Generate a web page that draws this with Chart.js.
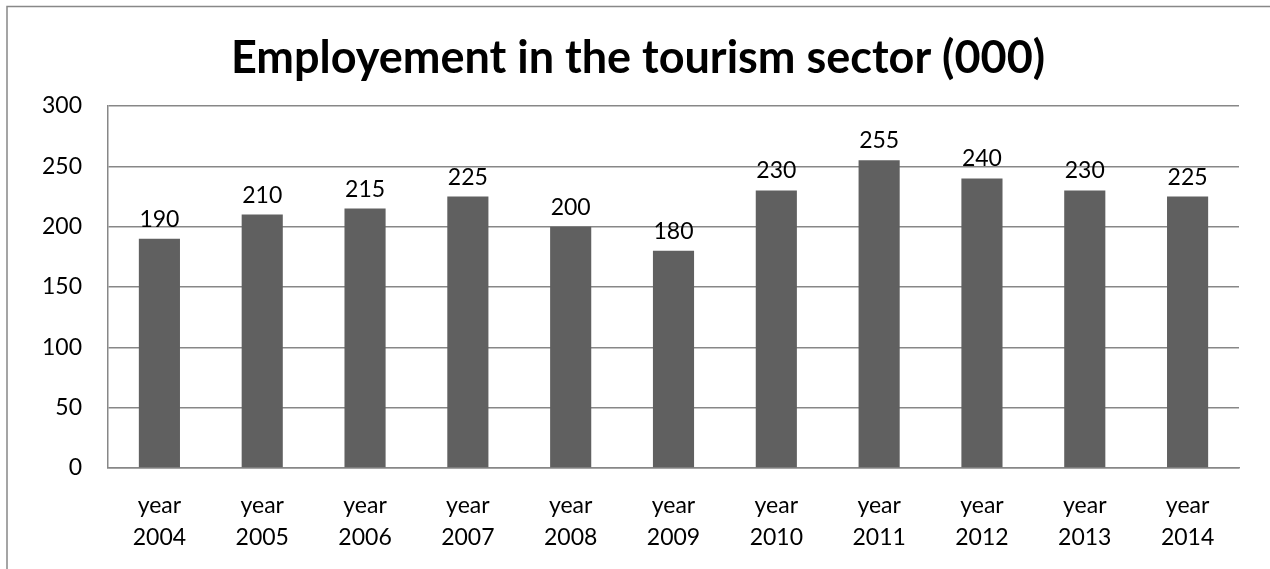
<!DOCTYPE html>
<html>
<head>
<meta charset="utf-8">
<title>Employement in the tourism sector</title>
<script src="https://cdn.jsdelivr.net/npm/chart.js@4/dist/chart.umd.min.js"></script>
<style>
  html, body { margin: 0; padding: 0; background: #fff; }
  #wrap { width: 1270px; height: 569px; }
</style>
</head>
<body>
<div id="wrap"><canvas id="chart" width="1270" height="569"></canvas></div>
<script>
const years = ['2004', '2005', '2006', '2007', '2008', '2009', '2010', '2011', '2012', '2013', '2014']
const employment = [190, 210, 215, 225, 200, 180, 230, 255, 240, 230, 225]
const yTicks = [0, 50, 100, 150, 200, 250, 300]

const FONT = "Lato, 'Liberation Sans', Arial, sans-serif"
const GRID = '#878787'

// outer frame of the chart object
const frame = {
  id: 'frame',
  beforeDraw(chart) {
    const ctx = chart.ctx
    ctx.save()
    ctx.fillStyle = '#fff'
    ctx.fillRect(0, 0, chart.width, chart.height)
    ctx.strokeStyle = '#888'
    ctx.lineWidth = 1.5
    ctx.strokeRect(7, 6.5, chart.width + 20, chart.height + 20)
    ctx.restore()
  },
}

// value above each bar
const barValues = {
  id: 'barValues',
  afterDatasetsDraw(chart) {
    const ctx = chart.ctx
    const meta = chart.getDatasetMeta(0)
    ctx.save()
    ctx.font = '23px ' + FONT
    ctx.fillStyle = '#000'
    ctx.textAlign = 'center'
    ctx.textBaseline = 'alphabetic'
    meta.data.forEach((bar, i) => {
      ctx.fillText(String(employment[i]), bar.x, bar.y - 12)
    })
    ctx.restore()
  },
}

new Chart(document.getElementById('chart'), {
  type: 'bar',
  data: {
    labels: years.map(y => ['year', y]),
    datasets: [{
      data: employment,
      backgroundColor: '#606060',
      borderWidth: 0,
      barPercentage: 0.4,
      categoryPercentage: 1.0,
    }],
  },
  options: {
    responsive: false,
    devicePixelRatio: 1,
    animation: false,
    layout: { padding: { left: 37, right: 31, top: 0, bottom: 0 } },
    plugins: {
      legend: { display: false },
      tooltip: { enabled: false },
      title: {
        display: true,
        text: 'Employement in the tourism sector (000)',
        color: '#000',
        font: { family: FONT, size: 45, weight: 'bold', lineHeight: 1.2 },
        padding: { top: 31, bottom: 21 },
      },
    },
    scales: {
      x: {
        grid: { display: false, drawTicks: false },
        border: { display: true, color: GRID, width: 1.5 },
        ticks: {
          color: '#000',
          font: { family: FONT, size: 23, lineHeight: 1.4 },
          padding: 21,
          maxRotation: 0,
          autoSkip: false,
        },
        afterFit(scale) { scale.height = 101 },
      },
      y: {
        min: 0,
        max: 300,
        afterBuildTicks(scale) { scale.ticks = yTicks.map(v => ({ value: v })) },
        grid: { color: GRID, lineWidth: 1.5, drawTicks: false },
        border: { display: true, color: GRID, width: 1.5 },
        ticks: {
          color: '#000',
          font: { family: FONT, size: 23 },
          padding: 26,
        },
        afterFit(scale) { scale.width = 71 },
      },
    },
  },
  plugins: [frame, barValues],
})
</script>
</body>
</html>
